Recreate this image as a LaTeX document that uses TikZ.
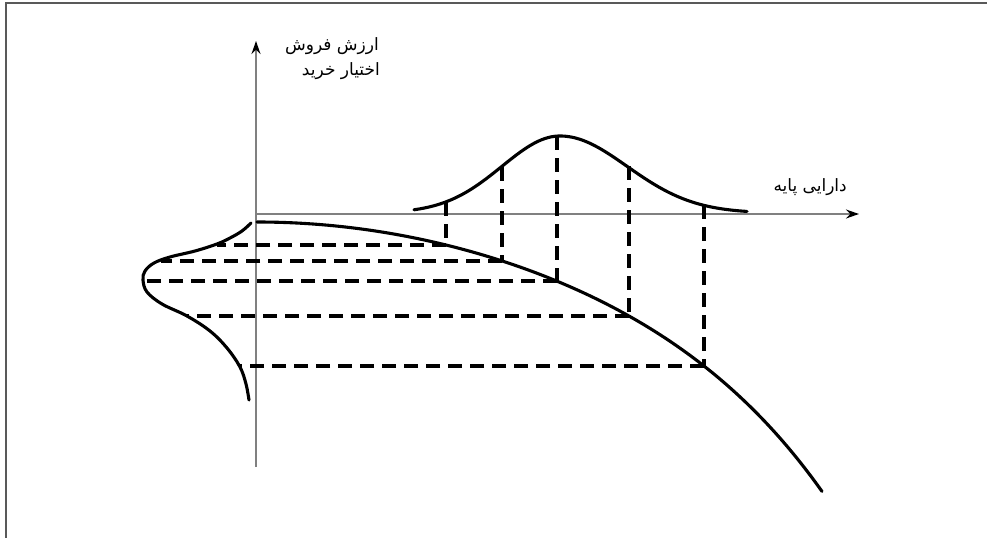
\documentclass[tikz,border=0pt]{standalone}
\usepackage{fontspec}
\usetikzlibrary{arrows.meta}
\TeXXeTstate=1
\newfontfamily\arabicfont[Script=Arabic]{DejaVu Sans}
\tikzset{
  axisline/.style={draw=black!50, line width=1.4pt},
  curveline/.style={draw=black, line width=3.1pt, line cap=round, line join=round},
  dashline/.style={draw=black, line width=3.1pt, dash pattern=on 14pt off 8pt},
  lbl/.style={font=\arabicfont\fontsize{17}{20}\selectfont, inner sep=0pt, text=black},
  framel/.style={draw=black!65, line width=1.4pt}
}
\begin{document}
\begin{tikzpicture}[x=1pt,y=-1pt]
\useasboundingbox (0,0) rectangle (987,538);
% frame
\coordinate (fTR) at (987,3);
\coordinate (fTL) at (6,3);
\coordinate (fBL) at (6,538);
\draw[framel] (fTR) -- (fTL) -- (fBL);
% axes
\coordinate (O) at (256,214);
\coordinate (yTop) at (256,41);
\coordinate (yBot) at (256,467);
\coordinate (xEnd) at (859,214);
\draw[axisline, -{Stealth[length=13pt,width=9pt,color=black]}] (yBot) -- (yTop);
\draw[axisline, -{Stealth[length=13pt,width=9pt,color=black]}] (O) -- (xEnd);
% labels
\node[lbl, anchor=east] (l1) at (379,46) {\beginR ارزش فروش\endR};
\node[lbl, anchor=east] (l2) at (380,71) {\beginR اختیار خرید\endR};
\node[lbl, anchor=east] (l3) at (847,187) {\beginR دارایی پایه\endR};
% top bell (split normal)
\draw[curveline] plot[domain=414:560, samples=80, smooth] (\x, {213-77*exp(-0.5*((\x-560)/58)^2)})
  -- plot[domain=560:747, samples=80, smooth] (\x, {213-77*exp(-0.5*((\x-560)/67)^2)});
% payoff curve
\draw[curveline] plot[domain=257:822, samples=120, smooth] (\x, {222+6.414*((\x-257)/100)^2+(0.3546*(\x-257)/100)^6});
% left bell
\draw[curveline] plot[smooth, tension=0.6] coordinates {(251,223) (242,231) (230,238) (217,244) (195,251) (170,257) (154,263) (145,271) (143,280) (147,292) (162,304) (187,316) (210,331) (227,348) (240,367) (246,384) (249,400)};
% points on curves
\coordinate (t1) at (446,202); \coordinate (p1) at (446,245); \coordinate (s1) at (217,245);
\coordinate (t2) at (502,167); \coordinate (p2) at (502,261); \coordinate (s2) at (161,261);
\coordinate (t3) at (557,136); \coordinate (p3) at (557,281); \coordinate (s3) at (143,281);
\coordinate (t4) at (629,166); \coordinate (p4) at (629,316); \coordinate (s4) at (187,316);
\coordinate (t5) at (704,205); \coordinate (p5) at (704,366); \coordinate (s5) at (240,366);
\foreach \i in {1,...,5}{
  \draw[dashline] (t\i) -- (p\i);
  \draw[dashline] (p\i) -- (s\i);
}
\end{tikzpicture}
\end{document}
